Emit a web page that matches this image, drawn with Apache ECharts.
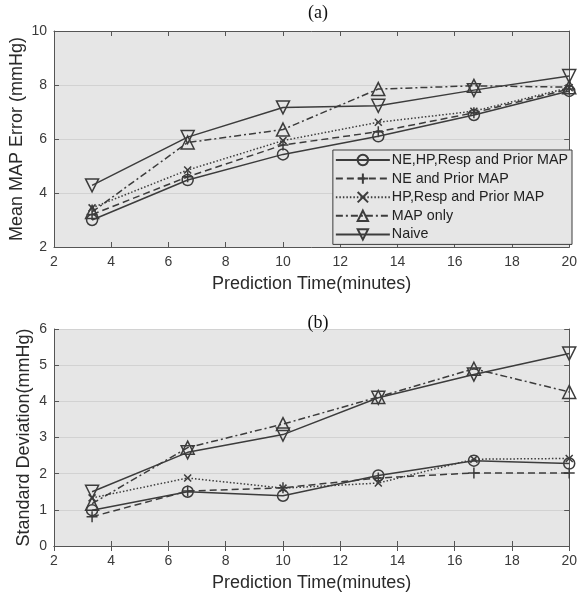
<!DOCTYPE html>
<html>
<head>
<meta charset="utf-8">
<script src="https://cdn.jsdelivr.net/npm/echarts@6/dist/echarts.min.js"></script>
<style>
  html, body { margin: 0; padding: 0; background: #fff; }
  #chart { width: 580px; height: 598px; }
</style>
</head>
<body>
<div id="chart"></div>
<script>
// data
var times = [3.33, 6.67, 10, 13.33, 16.67, 20];
var names = ['NE,HP,Resp and Prior MAP', 'NE and Prior MAP', 'HP,Resp and Prior MAP', 'MAP only', 'Naive'];

// (a) mean MAP error
var meanAll   = [3.0, 4.48, 5.43, 6.1, 6.89, 7.78];
var meanNE    = [3.2, 4.6, 5.78, 6.27, 6.97, 7.85];
var meanHP    = [3.45, 4.85, 5.94, 6.62, 7.03, 7.9];
var meanMAP   = [3.3, 5.87, 6.35, 7.85, 7.97, 7.92];
var meanNaive = [4.28, 6.07, 7.17, 7.23, 7.81, 8.33];

// (b) standard deviation
var sdAll   = [0.99, 1.5, 1.39, 1.95, 2.36, 2.28];
var sdNE    = [0.81, 1.52, 1.61, 1.88, 2.02, 2.02];
var sdHP    = [1.33, 1.88, 1.6, 1.74, 2.4, 2.42];
var sdMAP   = [1.17, 2.72, 3.37, 4.12, 4.9, 4.26];
var sdNaive = [1.5, 2.59, 3.08, 4.1, 4.74, 5.32];

var ink = '#3c3c3c';
var plusPath = 'path://M0,-1L0,1M-1,0L1,0';
var crossPath = 'path://M-1,-1L1,1M-1,1L1,-1';

var styles = [
  { symbol: 'circle', size: 11, rot: 0, type: 'solid' },
  { symbol: plusPath, size: 11, rot: 0, type: [7, 4] },
  { symbol: crossPath, size: 7, rot: 0, type: [1.5, 2] },
  { symbol: 'triangle', size: 13, rot: 0, type: [7, 3, 2, 3] },
  { symbol: 'triangle', size: 13, rot: 180, type: 'solid' }
];

function mk(i, vals, idx) {
  var s = styles[i];
  var isPath = s.symbol.indexOf('path://') === 0;
  return {
    name: names[i],
    type: 'line',
    xAxisIndex: idx,
    yAxisIndex: idx,
    data: times.map(function (t, k) { return [t, vals[k]]; }),
    symbol: s.symbol,
    symbolSize: s.size,
    symbolRotate: s.rot,
    showAllSymbol: true,
    lineStyle: { color: ink, width: 1.5, type: s.type },
    itemStyle: { color: isPath ? ink : 'rgba(0,0,0,0)', borderColor: ink, borderWidth: 1.5 },
    emphasis: { disabled: true },
    z: 5
  };
}

var axisFont = { color: '#3a3a3a', fontSize: 14, fontFamily: 'Liberation Sans, Arial' };
var nameFont = { color: '#2a2a2a', fontSize: 18, fontFamily: 'Liberation Sans, Arial' };

function xMain(gi, gap) {
  return {
    type: 'value', gridIndex: gi, min: 2, max: 20, interval: 2,
    name: 'Prediction Time(minutes)', nameLocation: 'middle', nameGap: gap,
    nameTextStyle: nameFont,
    axisLine: { lineStyle: { color: '#555', width: 1 } },
    axisTick: { inside: true, length: 5, lineStyle: { color: '#555' } },
    axisLabel: Object.assign({ margin: 8 }, axisFont),
    splitLine: { show: false }
  };
}
function xTop(gi) {
  return {
    type: 'value', gridIndex: gi, min: 2, max: 20, interval: 2, position: 'top',
    axisLine: { lineStyle: { color: '#555', width: 1 } },
    axisTick: { inside: true, length: 5, lineStyle: { color: '#555' } },
    axisLabel: { show: false }, splitLine: { show: false }
  };
}
function yMain(gi, min, max, step, label, gap) {
  return {
    type: 'value', gridIndex: gi, min: min, max: max, interval: step,
    name: label, nameLocation: 'middle', nameGap: gap, nameMoveOverlap: false,
    nameTextStyle: nameFont,
    axisLine: { show: true, lineStyle: { color: '#555', width: 1 } },
    axisTick: { show: true, inside: true, length: 5, lineStyle: { color: '#555' } },
    axisLabel: Object.assign({ margin: 7 }, axisFont),
    splitLine: { show: true, lineStyle: { color: '#d2d2d2', width: 1.2 } }
  };
}
function yRight(gi, min, max, step) {
  return {
    type: 'value', gridIndex: gi, min: min, max: max, interval: step, position: 'right',
    axisLine: { show: true, lineStyle: { color: '#555', width: 1 } },
    axisTick: { show: true, inside: true, length: 5, lineStyle: { color: '#555' } },
    axisLabel: { show: false }, splitLine: { show: false }
  };
}

var chart = echarts.init(document.getElementById('chart'), null, { renderer: 'canvas' });
chart.setOption({
  animation: false,
  backgroundColor: '#fff',
  title: [
    { text: '(a)', left: 313, top: -1, textAlign: 'center',
      textStyle: { fontFamily: 'Liberation Serif, Times New Roman', fontWeight: 'normal', fontSize: 18, color: '#111' } },
    { text: '(b)', left: 313, top: 309, textAlign: 'center',
      textStyle: { fontFamily: 'Liberation Serif, Times New Roman', fontWeight: 'normal', fontSize: 18, color: '#111' } }
  ],
  grid: [
    { left: 54, right: 8, top: 31, height: 216, backgroundColor: '#e6e6e6', show: true, borderWidth: 0 },
    { left: 54, right: 8, top: 329, height: 217, backgroundColor: '#e6e6e6', show: true, borderWidth: 0 }
  ],
  legend: {
    data: names,
    orient: 'vertical',
    right: 8, top: 150,
    itemWidth: 54, itemHeight: 13, itemGap: 4.6,
    padding: [3, 4, 3, 2],
    backgroundColor: '#e6e6e6',
    borderColor: '#3c3c3c', borderWidth: 1,
    textStyle: { color: '#222', fontSize: 14.3, fontFamily: 'Liberation Sans, Arial', padding: [0, 0, 0, -3] },
    selectedMode: false
  },
  xAxis: [xMain(0, 28), xTop(0), xMain(1, 28), xTop(1)],
  yAxis: [
    yMain(0, 2, 10, 2, 'Mean MAP Error (mmHg)', 28),
    yRight(0, 2, 10, 2),
    yMain(1, 0, 6, 1, 'Standard Deviation(mmHg)', 21),
    yRight(1, 0, 6, 1)
  ],
  series: [
    mk(0, meanAll, 0), mk(1, meanNE, 0), mk(2, meanHP, 0), mk(3, meanMAP, 0), mk(4, meanNaive, 0),
    mk(0, sdAll, 2), mk(1, sdNE, 2), mk(2, sdHP, 2), mk(3, sdMAP, 2), mk(4, sdNaive, 2)
  ]
});
</script>
</body>
</html>
